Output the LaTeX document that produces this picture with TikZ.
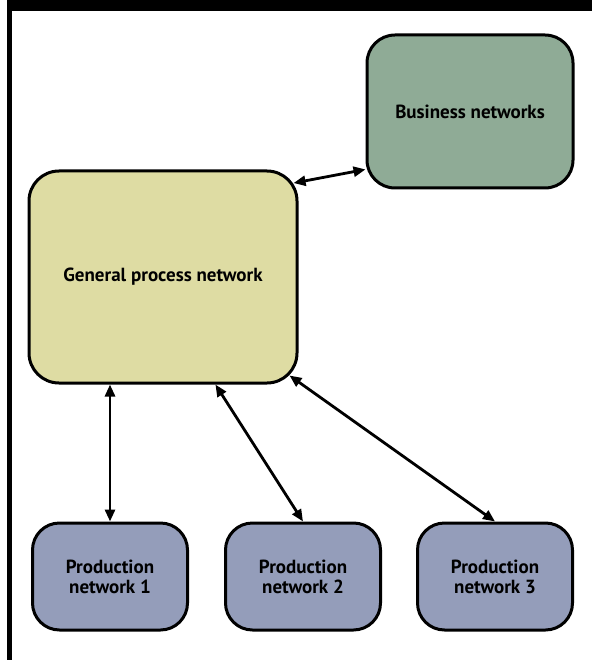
\documentclass[tikz,border=0pt]{standalone}
\usepackage{fontspec}
\setmainfont{PT Sans}
\usetikzlibrary{arrows.meta,calc}
\definecolor{bizgreen}{RGB}{143,171,150}
\definecolor{genyellow}{RGB}{222,220,163}
\definecolor{prodblue}{RGB}{148,157,186}
\tikzset{netbox/.style={draw,line width=3pt,align=center,
   font=\bfseries\fontsize{19}{20}\selectfont},
 link/.style={{Triangle[length=12pt,width=10pt]}-{Triangle[length=12pt,width=10pt]},
   line width=2.8pt}}

\begin{document}
\begin{tikzpicture}[x=1pt,y=-1pt]
\useasboundingbox (0,0) rectangle (592,660);
% frame bars
\fill (7,0) rectangle (592,11);
\fill (7,0) rectangle (12,660);
% networks
\node[netbox,fill=bizgreen,rounded corners=28pt,minimum width=206pt,minimum height=153pt]
  (biz) at (470,111.5) {Business networks};
\node[netbox,fill=genyellow,rounded corners=30pt,minimum width=268pt,minimum height=212pt]
  (gen) at (163,277) {General process network};
\foreach \i/\x in {1/110,2/303,3/495}
  \node[netbox,fill=prodblue,rounded corners=27pt,minimum width=155pt,minimum height=107pt]
    (prod\i) at (\x,576.5) {Production\\network \i};
% links
\draw[link,shorten <=-5pt] (gen.35) -- (biz.209);
\draw[link] (gen.south -| prod1.north) -- (prod1.north);
\draw[link] (gen.-64) -- (prod2.north);
\draw[link] ($(gen.south east)+(-9,-9)$) -- (prod3.north);
\end{tikzpicture}
\end{document}
